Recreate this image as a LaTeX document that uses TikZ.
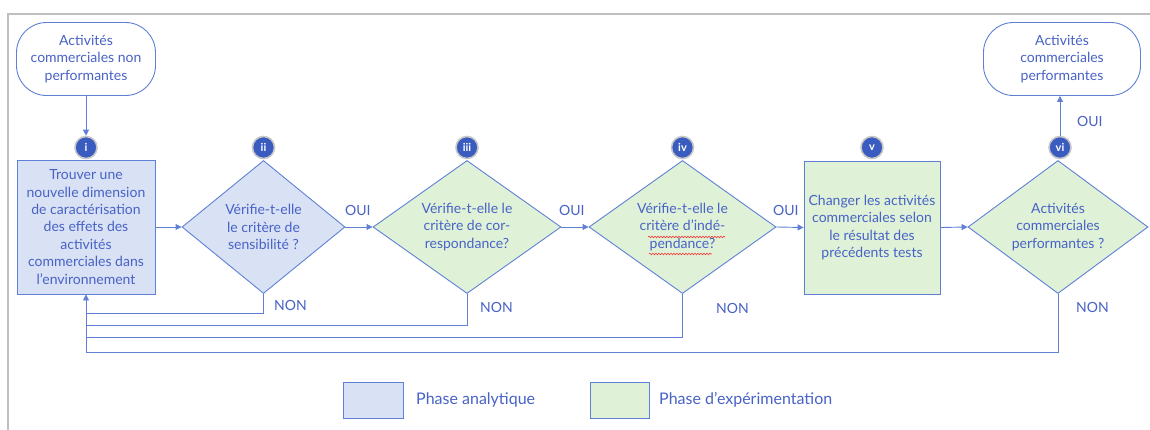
\documentclass[tikz,border=0pt]{standalone}
\usepackage{fontspec}
\setmainfont{Lato}
\usetikzlibrary{shapes.geometric,arrows.meta,decorations.pathmorphing,calc}
\definecolor{linec}{RGB}{95,128,212}
\definecolor{textc}{RGB}{72,98,198}
\definecolor{bluef}{RGB}{217,225,244}
\definecolor{greenf}{RGB}{223,242,216}
\definecolor{badgec}{RGB}{58,92,192}
\begin{document}
\begin{tikzpicture}[x=1pt,y=-1pt,
  every node/.style={text=textc,font=\fontsize{14}{17.4}\selectfont},
  conn/.style={draw=linec,line width=0.9pt},
  arr/.style={conn,-{Triangle[width=6pt,length=6pt]}},
  term/.style={draw=linec,line width=0.9pt,rounded corners=30pt,fill=white,align=center,inner sep=0},
  procb/.style={draw=linec,line width=0.9pt,align=center,inner sep=0},
  dia/.style={diamond,draw=linec,line width=0.9pt,inner sep=0},
  txt/.style={align=center,inner sep=0},
  badge/.style={circle,fill=badgec,draw=black!22,line width=1.6pt,minimum size=22pt,inner sep=0,
    text=white,font=\fontsize{11}{11}\selectfont\bfseries},
  lab/.style={inner sep=0,font=\fontsize{14}{14}\selectfont},
  legt/.style={anchor=west,inner sep=0,font=\fontsize{16}{16}\selectfont},
  legb/.style={draw=linec,line width=1pt,minimum width=60pt,minimum height=36pt,inner sep=0}
]
\useasboundingbox (0,0) rectangle (1150,430);
\draw[black!25,line width=1.6pt] (8,431) -- (8,14) -- (1151,14);

% terminals
\node[term,minimum width=139pt,minimum height=73pt] (start) at (86,59) {Activités\\commerciales non\\performantes};
\node[term,minimum width=157pt,minimum height=73pt] (stop) at (1062,59) {Activités\\commerciales\\performantes};

% steps
\node[procb,fill=bluef,minimum width=138pt,minimum height=134pt] (s1) at (86,227)
  {Trouver une\\nouvelle dimension\\de caractérisation\\des effets des\\activités\\commerciales dans\\l’environnement};
\node[dia,fill=bluef,minimum width=163pt,minimum height=133pt] (s2) at (263.5,227) {};
\node[txt] (t2) at (s2) {Vérifie-t-elle\\le critère de\\sensibilité ?};
\node[dia,fill=greenf,minimum width=188pt,minimum height=133pt] (s3) at (467,227) {};
\node[txt] (t3) at (s3) {Vérifie-t-elle le\\critère de cor-\\respondance?};
\node[dia,fill=greenf,minimum width=187pt,minimum height=133pt] (s4) at (682.5,227) {};
\node[txt] (t4) at (s4) {Vérifie-t-elle le\\critère d’indé-\\pendance?};
\node[procb,fill=greenf,minimum width=136pt,minimum height=133pt] (s5) at (872,227.5)
  {Changer les activités\\commerciales selon\\le résultat des\\précédents tests};
\node[dia,fill=greenf,minimum width=180pt,minimum height=133pt] (s6) at (1058,227) {};
\node[txt] (t6) at (s6) {Activités\\commerciales\\performantes ?};

% spell-check underline
\coordinate (w1a) at (648,237); \coordinate (w1b) at (725,237);
\coordinate (w2a) at (649,254); \coordinate (w2b) at (712,254);
\draw[red!80,line width=0.6pt,decorate,decoration={snake,amplitude=0.8pt,segment length=3pt}] (w1a) -- (w1b);
\draw[red!80,line width=0.6pt,decorate,decoration={snake,amplitude=0.8pt,segment length=3pt}] (w2a) -- (w2b);

% badges
\node[badge] (b1) at (86,147.5) {i};
\node[badge] (b2) at (263.5,147.5) {ii};
\node[badge] (b3) at (467,147.5) {iii};
\node[badge] (b4) at (682.5,147.5) {iv};
\node[badge] (b5) at (872,147.5) {v};
\node[badge] (b6) at (1060,147.5) {vi};

% forward arrows
\draw[arr] (start) -- (b1);
\draw[arr] (s1) -- (s2);
\draw[arr] (s2.east) -- (s3.west);
\draw[arr] (s3.east) -- (s4.west);
\draw[arr] (s4.east) -- (s5.west);
\draw[arr] (s5.east) -- (s6.west);
\draw[arr] (b6) -- (b6 |- stop.south);

\node[lab,anchor=west] (o2) at (345,210) {OUI};
\node[lab,anchor=west] (o3) at (559,210) {OUI};
\node[lab,anchor=west] (o4) at (773,210) {OUI};
\node[lab,anchor=west] (o6) at (1077,121) {OUI};

% feedback loops
\draw[conn] (s2.south) |- (s1.south |- 0,313);
\draw[conn] (s3.south) |- (s1.south |- 0,325);
\draw[conn] (s4.south) |- (s1.south |- 0,337);
\draw[conn] (s6.south |- s2.south) |- (s1.south |- 0,352.5);
\draw[arr] (s1.south |- 0,352.5) -- (s1.south);

\node[lab,anchor=west] (n2) at (274,305) {NON};
\node[lab,anchor=west] (n3) at (480,307) {NON};
\node[lab,anchor=west] (n4) at (716,308) {NON};
\node[lab,anchor=west] (n6) at (1076,307) {NON};

% legend
\node[legb,fill=bluef] (lg1) at (373,400) {};
\node[legt] (lt1) at (416,400) {Phase analytique};
\node[legb,fill=greenf,minimum width=59pt] (lg2) at (619.5,400) {};
\node[legt] (lt2) at (659,400) {Phase d’expérimentation};
\end{tikzpicture}
\end{document}
